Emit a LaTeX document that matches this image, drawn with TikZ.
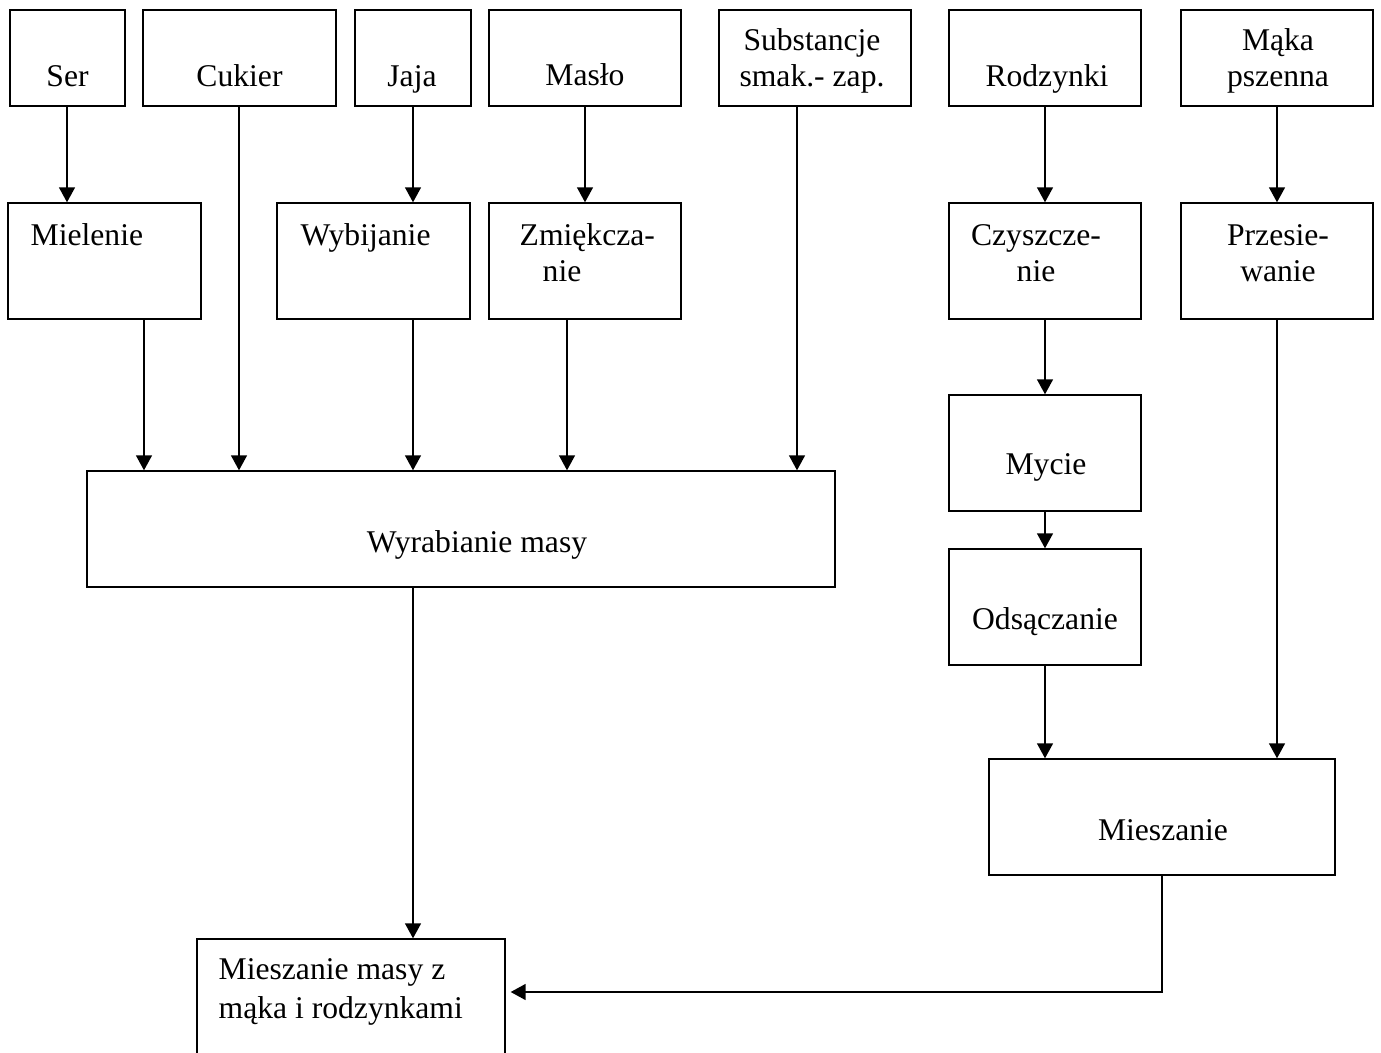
\documentclass[tikz,border=0pt]{standalone}
\usepackage{fontspec}
\setmainfont{Liberation Serif}
\usetikzlibrary{arrows.meta, positioning, calc}

\begin{document}
\begin{tikzpicture}[x=0.02cm, y=-0.02cm, line width=0.8pt,
  box/.style={draw, rectangle, inner sep=0pt, minimum width=3.84cm, minimum height=2.32cm},
  inbox/.style={box, minimum height=1.92cm},
  txt/.style={font=\fontsize{18}{20.5}\selectfont, inner sep=0pt, anchor=base},
  arr/.style={-{Triangle[length=0.3cm, width=0.32cm]}}]

  % Frame
  \useasboundingbox (0,0) rectangle (1381,1053);
  \clip (0,0) rectangle (1381,1053);

  % Raw materials
  \node[inbox, minimum width=2.3cm] (ser) at (67.5,58) {};
  \node[inbox, minimum width=3.86cm] (cukier) at (239.5,58) {};
  \node[inbox, minimum width=2.32cm] (jaja) at (413,58) {};
  \node[inbox] (maslo) at (585,58) {};
  \node[inbox] (subst) at (815,58) {};
  \node[inbox] (rodz) at (1045,58) {};
  \node[inbox] (maka) at (1277,58) {};

  \node[txt] (ser-t) at (67.5,87) {Ser};
  \node[txt] (cukier-t) at (239.5,87) {Cukier};
  \node[txt] (jaja-t) at (412,87) {Jaja};
  \node[txt] (maslo-t) at (585,86) {Masło};
  \node[txt, align=center] (subst-t) at (812,87) {Substancje\\smak.- zap.};
  \node[txt] (rodz-t) at (1047,87) {Rodzynki};
  \node[txt, align=center] (maka-t) at (1278,87) {Mąka\\pszenna};

  % Preparation
  \node[box, minimum width=3.86cm] (miel) at (104.5,261) {};
  \node[box, minimum width=3.86cm] (wybij) at (373.5,261) {};
  \node[box] (zmiek) at (585,261) {};
  \node[box] (czysz) at (1045,261) {};
  \node[box] (przes) at (1277,261) {};
  \node[box] (mycie) at (1045,453) {};
  \node[box] (odsacz) at (1045,607) {};

  \node[txt, anchor=base west] (miel-t) at (30,246) {Mielenie};
  \node[txt, anchor=base west] (wybij-t) at (300,246) {Wybijanie};
  \node[txt, anchor=base west, align=left] (zmiek-t) at (519,282) {Zmiękcza-\\\hspace*{0.46cm}nie};
  \node[txt, align=center] (czysz-t) at (1036,282) {Czyszcze-\\nie};
  \node[txt, align=center] (przes-t) at (1278,282) {Przesie-\\wanie};
  \node[txt] (mycie-t) at (1046,475) {Mycie};
  \node[txt] (odsacz-t) at (1045,629) {Odsączanie};

  % Mixing
  \node[box, minimum width=14.96cm] (wyrab) at (461,529) {};
  \node[box, minimum width=6.92cm] (miesz) at (1162,817) {};
  \node[box, minimum width=6.16cm, minimum height=2.6cm] (final) at (351,1004) {};

  \node[txt] (wyrab-t) at (477,552) {Wyrabianie masy};
  \node[txt] (miesz-t) at (1163,840) {Mieszanie};
  \node[txt, font=\fontsize{18}{22}\selectfont, anchor=base west, align=left] (final-t) at (218,1018) {Mieszanie masy z\\mąka i rodzynkami};

  % Outlets
  \coordinate (ser-out) at ([xshift=-0.01cm]ser.south);
  \coordinate (cukier-out) at ([xshift=-0.01cm]cukier.south);
  \coordinate (miel-out) at ([xshift=0.79cm]miel.south);
  \coordinate (wybij-out) at ([xshift=0.79cm]wybij.south);
  \coordinate (zmiek-out) at ([xshift=-0.36cm]zmiek.south);
  \coordinate (subst-out) at ([xshift=-0.36cm]subst.south);
  \coordinate (wyrab-out) at ([xshift=-0.96cm]wyrab.south);
  \coordinate (final-in) at ([xshift=0.1cm, yshift=0.24cm]final.east);

  % Arrows
  \draw[arr] (ser-out) -- (ser-out |- miel.north);
  \draw[arr] (jaja.south) -- (jaja.south |- wybij.north);
  \draw[arr] (maslo.south) -- (maslo.south |- zmiek.north);
  \draw[arr] (rodz) -- (czysz);
  \draw[arr] (maka) -- (przes);
  \draw[arr] (miel-out) -- (miel-out |- wyrab.north);
  \draw[arr] (cukier-out) -- (cukier-out |- wyrab.north);
  \draw[arr] (wybij-out) -- (wybij-out |- wyrab.north);
  \draw[arr] (zmiek-out) -- (zmiek-out |- wyrab.north);
  \draw[arr] (subst-out) -- (subst-out |- wyrab.north);
  \draw[arr] (czysz) -- (mycie);
  \draw[arr] (mycie) -- (odsacz);
  \draw[arr] (odsacz.south) -- (odsacz.south |- miesz.north);
  \draw[arr] (przes.south) -- (przes.south |- miesz.north);
  \draw[arr] (wyrab-out) -- (wyrab-out |- final.north);
  \draw[arr] (miesz.south) |- (final-in);
\end{tikzpicture}
\end{document}
